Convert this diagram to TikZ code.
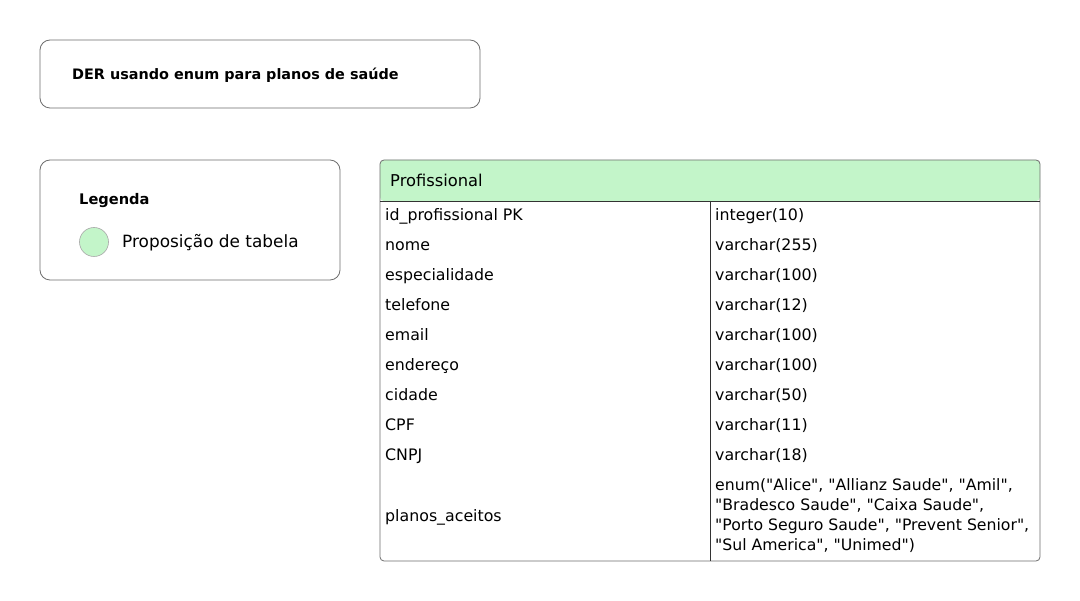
\documentclass[tikz,border=0pt]{standalone}
\usepackage{fontspec}
\newfontfamily\ff{DejaVu Sans}
\definecolor{hdr}{HTML}{C3F5C9}
\definecolor{edge}{HTML}{6E6E6E}
\begin{document}
\begin{tikzpicture}[x=1pt,y=-1pt,
  boxstyle/.style={draw=edge,line width=0.8pt,rounded corners=10pt},
  cell/.style={anchor=base west,inner sep=0pt,font=\ff\fontsize{15.8}{18}\selectfont},
  every node/.style={text=black}]
\useasboundingbox[fill=white] (0,0) rectangle (1080,601);
% title
\draw[boxstyle] (40,40) rectangle (480,108);
\node[anchor=base west,inner sep=0pt,font=\ff\fontsize{14.4}{18}\selectfont\bfseries] (title) at (72,79.5) {DER usando enum para planos de saúde};
% legend
\draw[boxstyle] (40,160) rectangle (340,280);
\node[anchor=base west,inner sep=0pt,font=\ff\fontsize{14.6}{18}\selectfont\bfseries] (leg) at (79,204.5) {Legenda};
\node[circle,draw=edge!60,fill=hdr,line width=0.6pt,minimum size=29pt,inner sep=0pt] (dot) at (94,242) {};
\node[anchor=base west,inner sep=0pt,font=\ff\fontsize{16.9}{20}\selectfont] (legtxt) at (122,248) {Proposição de tabela};
% table
\fill[hdr,rounded corners=4pt] (380,201) -- (380,160) -- (1040,160) -- (1040,201) -- cycle;
\draw[edge,line width=0.8pt,rounded corners=4pt] (380,160) rectangle (1040,561);
\draw[black!80,line width=0.8pt] (380,201) -- (1040,201);
\draw[black!80,line width=0.8pt] (710,201) -- (710,561);
\node[cell,font=\ff\fontsize{16.3}{18}\selectfont] (hname) at (390,186.5) {Profissional};
\foreach \n/\a/\b/\y in {r1/id\_profissional PK/integer(10)/215,
  r2/nome/varchar(255)/245, r3/especialidade/varchar(100)/275,
  r4/telefone/varchar(12)/305, r5/email/varchar(100)/335,
  r6/endereço/varchar(100)/365, r7/cidade/varchar(50)/395,
  r8/CPF/varchar(11)/425, r9/CNPJ/varchar(18)/455}{
  \node[cell] (\n a) at (385,\y+5.5) {\a};
  \node[cell] (\n b) at (715,\y+5.5) {\b};
}
\node[cell] (r10a) at (385,521.5) {planos\_aceitos};
\node[anchor=west,inner sep=0pt,align=left,font=\ff\fontsize{15.7}{20}\selectfont] (r10b) at (715,516) {enum("Alice", "Allianz Saude", "Amil",\\"Bradesco Saude", "Caixa Saude",\\"Porto Seguro Saude", "Prevent Senior",\\"Sul America", "Unimed")};
\end{tikzpicture}
\end{document}
